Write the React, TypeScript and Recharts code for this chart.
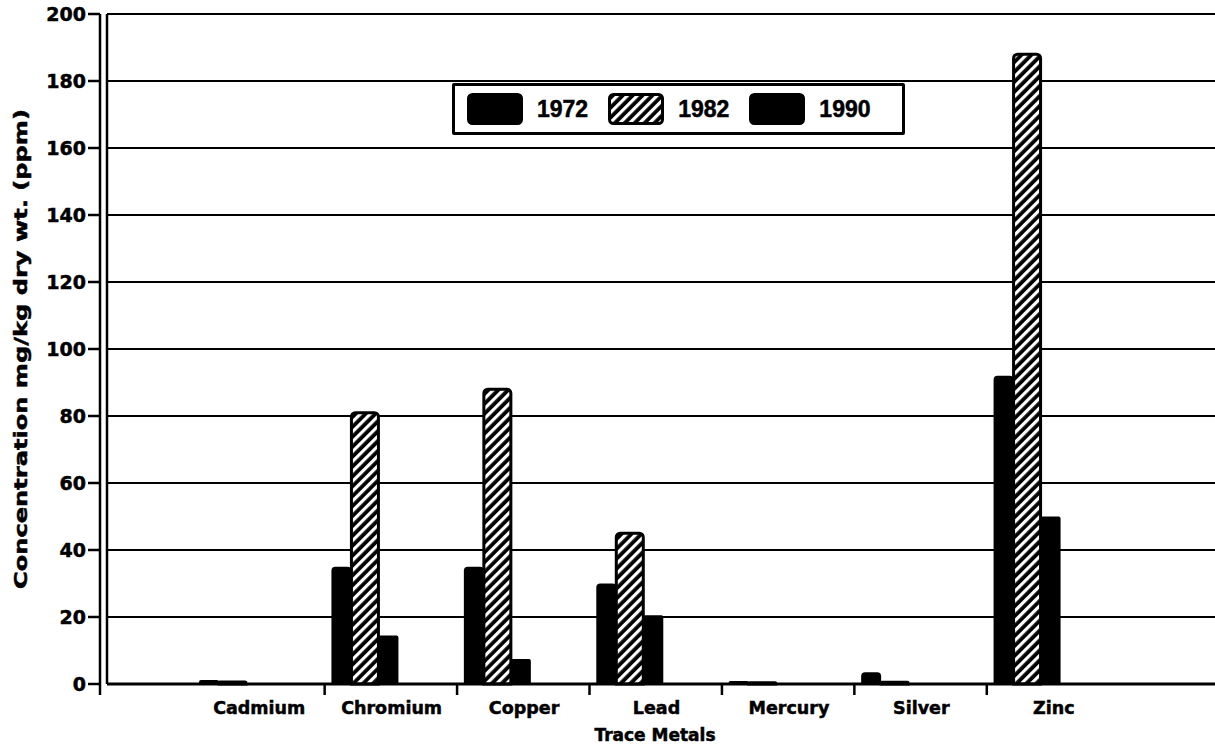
import React from 'react';
import { BarChart, Bar, XAxis, YAxis, CartesianGrid, Legend } from 'recharts';

const metals = ['Cadmium', 'Chromium', 'Copper', 'Lead', 'Mercury', 'Silver', 'Zinc'];
const conc1972 = [1.2, 35, 35, 30, 0.9, 3.5, 92];
const conc1982 = [0.6, 81, 88, 45, 0.4, 0.5, 188];
const conc1990 = [0.2, 14.5, 7.5, 20.5, 0.1, 0.1, 50];
const yTicks = [0, 20, 40, 60, 80, 100, 120, 140, 160, 180, 200];

const data = metals.map((metal, i) => ({
  metal,
  y1972: conc1972[i],
  y1982: conc1982[i],
  y1990: conc1990[i],
}));

const WIDE = '"DejaVu Sans", sans-serif';
const ARIAL = '"Liberation Sans", Arial, sans-serif';

// tick label sits right of the group, tick mark at the band start
const MetalTick = (props: any) => {
  const { x, y, payload, index } = props;
  return (
    <g>
      {index > 0 && (
        <line x1={x - 40} y1={y} x2={x - 40} y2={y + 11} stroke="#000" strokeWidth={2.5} />
      )}
      <text x={x + 27} y={y + 30} textAnchor="middle" fontFamily={WIDE} fontWeight="bold" fontSize={17.5} fill="#000" stroke="#000" strokeWidth={0.5}>
        {payload.value}
      </text>
    </g>
  );
};

const ConcTick = (props: any) => {
  const { x, y, payload } = props;
  return (
    <g>
      <text x={x} y={y} dy={7} textAnchor="end" fontFamily={WIDE} fontWeight="bold" fontSize={19} fill="#000" stroke="#000" strokeWidth={0.5}>
        {payload.value}
      </text>
      {payload.value === 0 && (
        <line x1={x + 14} y1={y} x2={x + 14} y2={y + 11} stroke="#000" strokeWidth={2.5} />
      )}
    </g>
  );
};

const YTitle = (props: any) => {
  const { viewBox } = props;
  const cx = 20;
  const cy = viewBox.y + viewBox.height / 2;
  return (
    <text
      x={cx}
      y={cy}
      transform={`rotate(-90 ${cx} ${cy})`}
      textAnchor="middle"
      dominantBaseline="central"
      textLength={480}
      lengthAdjust="spacingAndGlyphs"
      fontFamily={WIDE}
      fontWeight="bold"
      fontSize={18}
      fill="#000"
      stroke="#000"
      strokeWidth={0.5}
    >
      Concentration mg/kg dry wt. (ppm)
    </text>
  );
};

const legendItems = [
  { label: '1972', fill: '#000' },
  { label: '1982', fill: 'url(#hatch82)' },
  { label: '1990', fill: '#000' },
];

const LegendBox = () => (
  <div
    style={{
      width: 453,
      height: 52,
      boxSizing: 'border-box',
      border: '3px solid #000',
      borderRadius: 2,
      background: '#fff',
      display: 'flex',
      alignItems: 'center',
      paddingLeft: 12,
    }}
  >
    {legendItems.map((item) => (
      <div key={item.label} style={{ display: 'flex', alignItems: 'center', marginRight: 20 }}>
        <svg width={56} height={32}>
          <rect x={1.5} y={1.5} width={53} height={29} rx={4} fill={item.fill} stroke="#000" strokeWidth={3} />
        </svg>
        <span style={{ marginLeft: 14, fontFamily: ARIAL, fontWeight: 'bold', fontSize: 23, lineHeight: 1, WebkitTextStroke: '0.5px #000' }}>
          {item.label}
        </span>
      </div>
    ))}
  </div>
);

export default function App() {
  return (
    <div style={{ width: 1215, height: 750, background: '#fff' }}>
      <style>{'body{margin:0}'}</style>
      <svg width={0} height={0} style={{ position: 'absolute' }}>
        <defs>
          <pattern id="hatch82" patternUnits="userSpaceOnUse" width={7} height={7} patternTransform="rotate(45)">
            <rect width={7} height={7} fill="#000" />
            <rect x={0} width={3.2} height={7} fill="#fff" />
          </pattern>
        </defs>
      </svg>
      <BarChart
        width={1215}
        height={750}
        data={data}
        margin={{ top: 14, right: 0, bottom: 0, left: 0 }}
        barGap={0}
        barCategoryGap={0}
      >
        <CartesianGrid yAxisId="main" vertical={false} stroke="#000" strokeWidth={2} />
        <XAxis
          dataKey="metal"
          height={66}
          padding={{ left: 59, right: 122 }}
          axisLine={{ stroke: '#000', strokeWidth: 3 }}
          tickLine={false}
          tickSize={0}
          tickMargin={0}
          tick={<MetalTick />}
          interval={0}
          label={{
            value: 'Trace Metals',
            position: 'insideBottom',
            offset: 9,
            dx: -6,
            fill: '#000',
            stroke: '#000',
            strokeWidth: 0.5,
            fontFamily: WIDE,
            fontWeight: 'bold',
            fontSize: 17,
          }}
        />
        <YAxis
          width={7}
          domain={[0, 200]}
          ticks={yTicks}
          tick={false}
          tickLine={false}
          axisLine={{ stroke: '#000', strokeWidth: 2.5 }}
        />
        <YAxis
          yAxisId="main"
          width={100}
          domain={[0, 200]}
          ticks={yTicks}
          tickSize={12}
          tickMargin={2}
          tickLine={{ stroke: '#000', strokeWidth: 2.5 }}
          axisLine={{ stroke: '#000', strokeWidth: 2.5 }}
          tick={<ConcTick />}
          label={<YTitle />}
        />
        <Legend
          verticalAlign="middle"
          align="center"
          layout="horizontal"
          content={<LegendBox />}
          wrapperStyle={{ position: 'absolute', left: 452, top: 83, width: 453, height: 52 }}
        />
        <Bar yAxisId="main" dataKey="y1972" name="1972" fill="#000" barSize={20} radius={[4, 4, 0, 0]} isAnimationActive={false} />
        <Bar
          yAxisId="main"
          dataKey="y1982"
          name="1982"
          fill="url(#hatch82)"
          stroke="#000"
          strokeWidth={3}
          barSize={27}
          radius={[4, 4, 0, 0]}
          isAnimationActive={false}
        />
        <Bar yAxisId="main" dataKey="y1990" name="1990" fill="#000" barSize={20} radius={[2, 2, 0, 0]} isAnimationActive={false} />
      </BarChart>
    </div>
  );
}
